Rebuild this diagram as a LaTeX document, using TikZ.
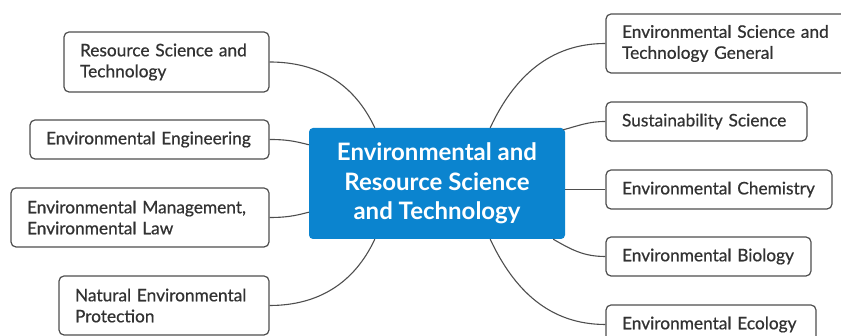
\documentclass[tikz,border=0pt]{standalone}
\usepackage{fontspec}
\setmainfont{Lato}
\newfontfamily\leaffont[FakeBold=0.6]{Lato}
\usetikzlibrary{positioning,calc}
\definecolor{rootblue}{RGB}{11,132,207}
\definecolor{boxgray}{RGB}{78,78,78}
\definecolor{textgray}{RGB}{50,50,50}

\begin{document}
\begin{tikzpicture}[
    x=1pt, y=1pt,
    root/.style={rectangle, rounded corners=4pt, fill=rootblue, text=white, align=center, inner sep=0pt, minimum width=256pt, minimum height=111pt, font=\fontsize{24}{29.5}\selectfont\bfseries},
    topic/.style={rectangle, draw=boxgray, line width=1.2pt, rounded corners=5pt, fill=white, text=textgray, align=left, inner xsep=16pt, inner ysep=0pt, font=\leaffont\fontsize{17.3}{21}\selectfont},
    link/.style={draw=boxgray, line width=1.1pt}
  ]
    \useasboundingbox (0,0) rectangle (841,336);
    % Central topic
    \node[root] (root) at (437,152.5) {Environmental and\\Resource Science\\and Technology};
    % Left branches
    \node[topic, text width=173pt, minimum height=60pt] (resource)   at (166.5,274)  {Resource Science and\\Technology};
    \node[topic, text width=207pt, minimum height=39pt] (engineer)   at (149.5,196.5){Environmental Engineering};
    \node[topic, text width=226pt, minimum height=59pt] (management) at (140,118.5)  {Environmental Management,\\Environmental Law};
    \node[topic, text width=178pt, minimum height=59pt] (protection) at (164,30.5)   {Natural Environmental\\Protection};
    % Right branches
    \node[topic, text width=218pt, minimum height=59pt] (general)     at (731,292.5) {Environmental Science and\\Technology General};
    \node[topic, text width=169pt, minimum height=39pt] (sustain)     at (706.5,214.5){Sustainability Science};
    \node[topic, text width=194pt, minimum height=39pt] (chemistry)   at (719,146.5) {Environmental Chemistry};
    \node[topic, text width=173pt, minimum height=39pt] (biology)     at (708.5,79.5){Environmental Biology};
    \node[topic, text width=178pt, minimum height=39pt] (ecology)     at (711,11.5)  {Environmental Ecology};
    % docking points on the central topic
    \coordinate (rootNL) at ([xshift=66pt]root.north west);
    \coordinate (rootWL) at ([yshift=-17pt]root.north west);
    \coordinate (rootWR) at ([yshift=27pt]root.south west);
    \coordinate (rootSL) at ([xshift=66pt]root.south west);
    \coordinate (rootNR) at ([xshift=-75pt]root.north east);
    \coordinate (rootER) at ([xshift=-2pt,yshift=-2pt]root.north east);
    \coordinate (rootSE) at ([xshift=-12pt]root.south east);
    \coordinate (rootSR) at ([xshift=-75pt]root.south east);
    % connectors
    \draw[link] (resource.east)   to[out=0, in=115]  (rootNL);
    \draw[link] (engineer.east)   to[out=0, in=165]  (rootWL);
    \draw[link] (management.east) to[out=0, in=195]  (rootWR);
    \draw[link] (protection.east) to[out=0, in=-115] (rootSL);
    \draw[link] (general.west)    to[out=180, in=65]  (rootNR);
    \draw[link] (sustain.west)    to[out=180, in=15]  (rootER);
    \draw[link] (chemistry.west)  -- (chemistry.west -| root.east);
    \draw[link] (biology.west)    to[out=180, in=-30] (rootSE);
    \draw[link] (ecology.west)    to[out=180, in=-65] (rootSR);
\end{tikzpicture}
\end{document}
